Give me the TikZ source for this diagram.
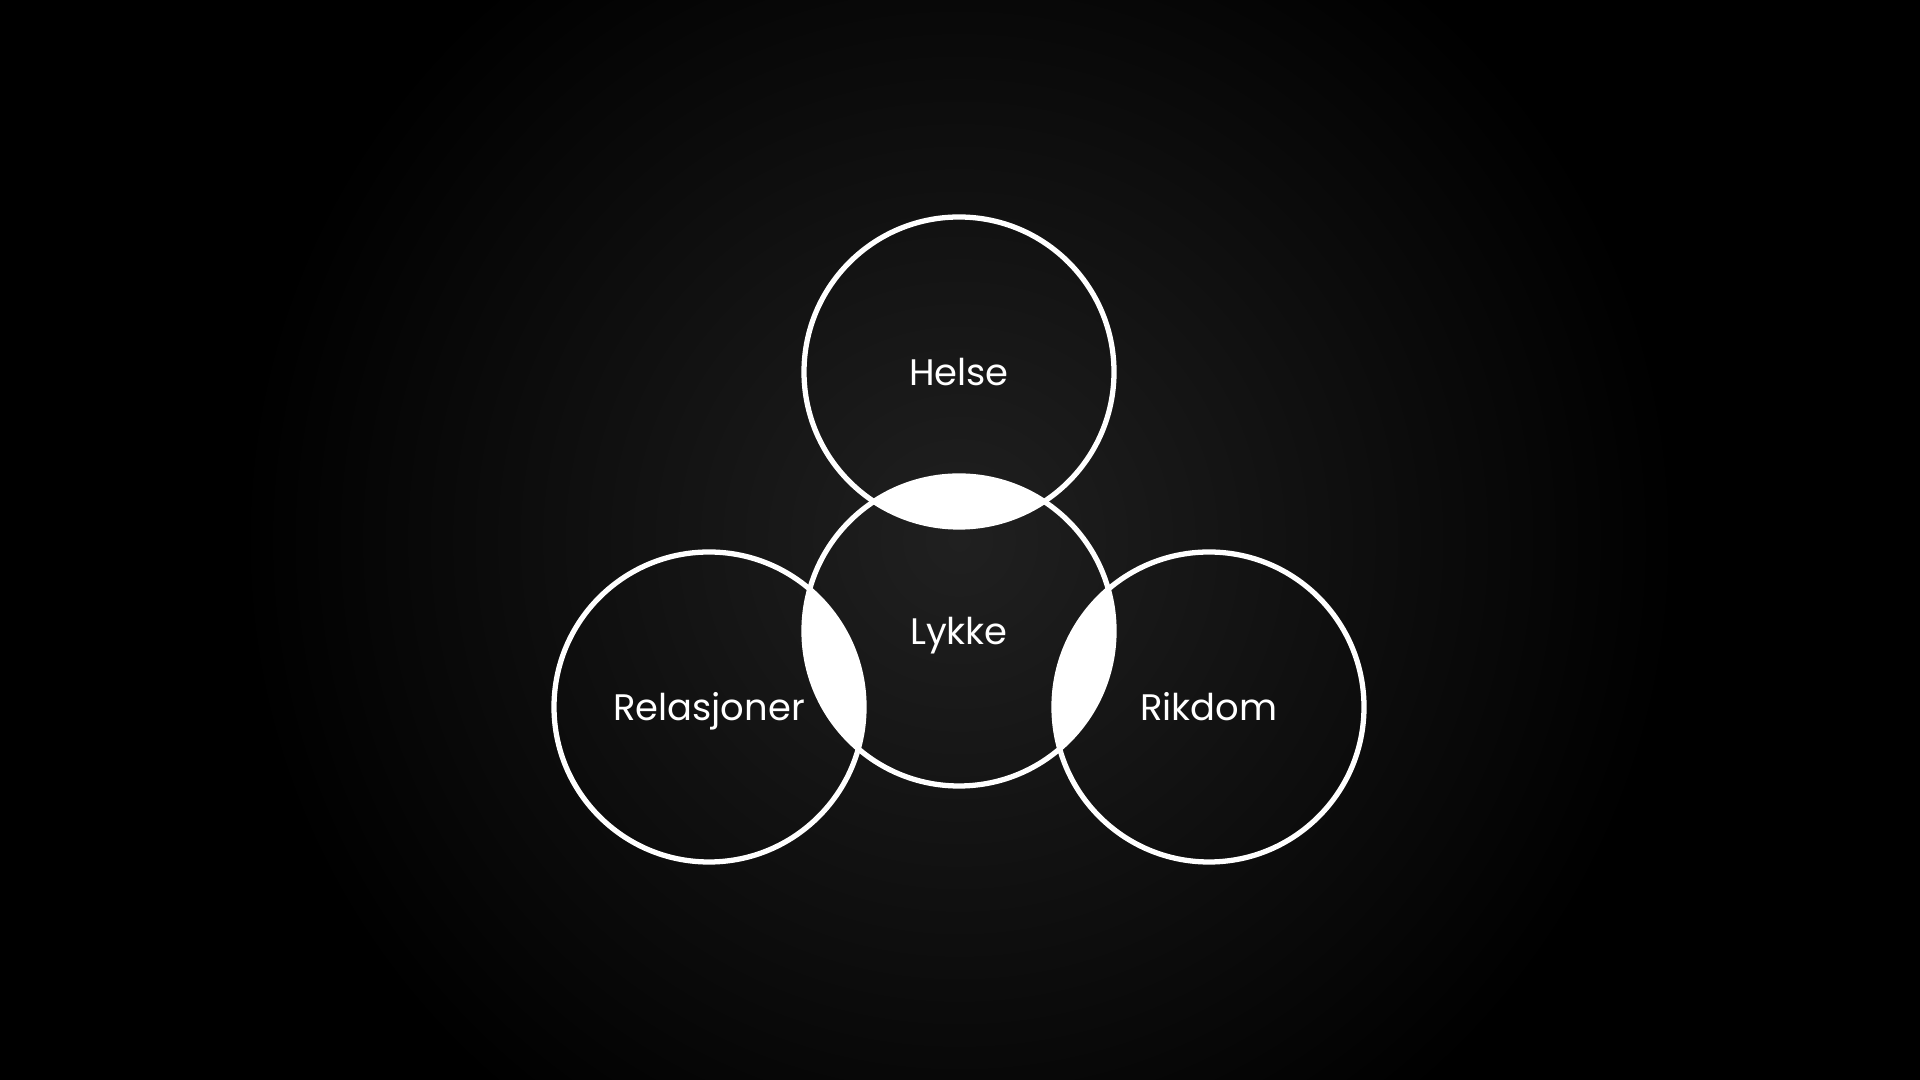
\documentclass[tikz,border=0pt]{standalone}
\usepackage{fontspec}
\setmainfont{Poppins}
\definecolor{bgCenter}{RGB}{32,32,32}
\begin{document}
\begin{tikzpicture}

% --- Stiler ---
\tikzset{
    ring/.style={
        circle,
        draw=white,
        line width=1.5pt,
        minimum size=3.1cm,
        inner sep=0pt,
        text=white,
        text height=0.75em,
        text depth=0pt,
        font=\fontsize{10.5pt}{12pt}\selectfont
    },
    lens/.style={
        fill=white
    }
}

% =========================================================
% Bakgrunn
% =========================================================

\useasboundingbox (0,0) rectangle (19.2,10.8);
\fill[black] (0,0) rectangle (19.2,10.8);
\begin{scope}
    \clip (0,0) rectangle (19.2,10.8);
    \shade[inner color=bgCenter, outer color=black] (9.59,5.4) circle (7.2cm);
\end{scope}

% =========================================================
% Sirkler
% =========================================================

\node[ring] (lykke) at (9.59,4.49) {Lykke};
\node[ring] (helse) at (9.59,7.08) {Helse};
\node[ring] (relasjoner) at (7.09,3.73) {Relasjoner};
\node[ring] (rikdom) at (12.09,3.73) {Rikdom};

% Hvite overlapp mellom Lykke og de andre
\foreach \other in {helse,relasjoner,rikdom} {
    \begin{scope}
        \clip (lykke.center) circle (1.55cm);
        \fill[lens] (\other.center) circle (1.55cm);
    \end{scope}
}

\end{tikzpicture}
\end{document}
